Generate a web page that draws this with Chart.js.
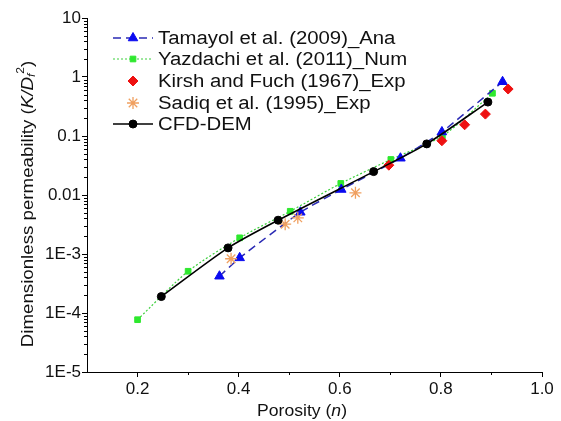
<!DOCTYPE html>
<html>
<head>
<meta charset="utf-8">
<script src="https://cdn.jsdelivr.net/npm/chart.js@4/dist/chart.umd.min.js"></script>
<style>
  html, body { margin: 0; padding: 0; background: #fff; }
  #wrap { width: 561px; height: 421px; position: relative; }
</style>
</head>
<body>
<div id="wrap"><canvas id="chart"></canvas></div>
<script>
// series values
const tamayolX = [0.362, 0.402, 0.522, 0.603, 0.72, 0.802, 0.922];
const tamayolY = [4.2e-4, 8.6e-4, 5.1e-3, 0.0124, 0.042, 0.117, 0.83];
const yazdachiX = [0.2, 0.3, 0.402, 0.502, 0.602, 0.701, 0.803, 0.902];
const yazdachiY = [7.7e-5, 5.1e-4, 1.88e-3, 5.3e-3, 0.0157, 0.040, 0.10, 0.53];
const kirshX = [0.697, 0.802, 0.847, 0.888, 0.933];
const kirshY = [0.032, 0.083, 0.155, 0.235, 0.625];
const sadiqX = [0.385, 0.492, 0.517, 0.631];
const sadiqY = [8.3e-4, 3.2e-3, 4.1e-3, 0.0109];
const cfdX = [0.247, 0.379, 0.478, 0.667, 0.772, 0.893];
const cfdY = [1.9e-4, 1.27e-3, 3.74e-3, 0.0249, 0.0735, 0.376];

const seriesLabels = ["Tamayol et al. (2009)_Ana", "Yazdachi et al. (2011)_Num",
  "Kirsh and Fuch (1967)_Exp", "Sadiq et al. (1995)_Exp", "CFD-DEM"];

// tick labels
const xTicks = [0.2, 0.4, 0.6, 0.8, 1.0];
const xTickLabels = ["0.2", "0.4", "0.6", "0.8", "1.0"];
const xMinorTicks = [0.3, 0.5, 0.7, 0.9];
const yTicks = [1e-5, 1e-4, 1e-3, 0.01, 0.1, 1, 10];
const yTickLabels = ["1E-5", "1E-4", "1E-3", "0.01", "0.1", "1", "10"];

const FONT = "'Liberation Sans', Arial, sans-serif";

function pts(xs, ys) {
  return xs.map((x, i) => ({ x: x, y: ys[i] }));
}

/**
 * Draw text made of several pieces (italic, sub/superscript), centred on cx
 * sx stretches the text horizontally a little, like the source figure
 */
function drawRich(ctx, parts, cx, cy, size, sx) {
  const fontOf = p => (p.italic ? "italic " : "") + Math.round(size * (p.scale || 1)) + "px " + FONT;
  let total = 0;
  parts.forEach(p => { ctx.font = fontOf(p); total += ctx.measureText(p.t).width; });
  ctx.save();
  ctx.translate(cx, cy);
  ctx.scale(sx, 1);
  let x = -total / 2;
  ctx.textBaseline = "middle";
  ctx.textAlign = "left";
  parts.forEach(p => {
    ctx.font = fontOf(p);
    ctx.fillText(p.t, x, p.shift || 0);
    x += ctx.measureText(p.t).width;
  });
  ctx.restore();
}

const extrasPlugin = {
  id: "extras",
  afterDraw(chart) {
    const ctx = chart.ctx;
    const xs = chart.scales.x, ys = chart.scales.y;
    const area = chart.chartArea;
    ctx.save();
    ctx.strokeStyle = "#000";
    ctx.lineWidth = 1;
    // minor ticks
    ctx.beginPath();
    for (let k = -5; k < 1; k++) {
      for (let d = 2; d <= 9; d++) {
        const py = Math.round(ys.getPixelForValue(d * Math.pow(10, k))) + 0.5;
        ctx.moveTo(area.left - 3, py);
        ctx.lineTo(area.left, py);
      }
    }
    xMinorTicks.forEach(v => {
      const px = Math.round(xs.getPixelForValue(v)) + 0.5;
      ctx.moveTo(px, area.bottom);
      ctx.lineTo(px, area.bottom + 3);
    });
    ctx.stroke();

    // axis titles
    ctx.fillStyle = "#111";
    drawRich(ctx, [{ t: "Porosity (" }, { t: "n", italic: true }, { t: ")" }], 302, 412, 16, 1.1);
    ctx.save();
    ctx.translate(28, 204);
    ctx.rotate(-Math.PI / 2);
    drawRich(ctx, [
      { t: "Dimensionless permeability (" },
      { t: "K/D", italic: true },
      { t: "f", italic: true, scale: 0.65, shift: 4 },
      { t: "2", scale: 0.65, shift: -7 },
      { t: ")" }
    ], 0, 0, 17, 1.1);
    ctx.restore();

    // legend
    const rowsY = [38, 59, 81, 103, 124];
    chart.data.datasets.forEach((ds, i) => {
      const y = rowsY[i];
      if (ds.showLine !== false) {
        ctx.save();
        ctx.strokeStyle = ds.borderColor;
        ctx.lineWidth = ds.borderWidth;
        ctx.setLineDash(ds.borderDash || []);
        ctx.beginPath();
        ctx.moveTo(113, y);
        ctx.lineTo(153, y);
        ctx.stroke();
        ctx.restore();
      }
      ctx.save();
      ctx.fillStyle = ds.pointBackgroundColor;
      ctx.strokeStyle = ds.pointBorderColor;
      ctx.lineWidth = ds.pointBorderWidth;
      Chart.helpers.drawPoint(ctx, {
        pointStyle: ds.pointStyle, radius: ds.pointRadius, rotation: 0, borderWidth: ds.pointBorderWidth
      }, 133, y);
      ctx.restore();
      ctx.save();
      ctx.fillStyle = "#111";
      ctx.font = "18px " + FONT;
      ctx.textAlign = "left";
      ctx.textBaseline = "middle";
      ctx.translate(158, y + 1);
      ctx.scale(1.13, 1);
      ctx.fillText(ds.label, 0, 0);
      ctx.restore();
    });
    ctx.restore();
  }
};

new Chart(document.getElementById("chart").getContext("2d"), {
  type: "scatter",
  data: {
    datasets: [
      {
        label: seriesLabels[0], data: pts(tamayolX, tamayolY), showLine: true,
        borderColor: "#2a2ab4", borderWidth: 1.5, borderDash: [8, 5], tension: 0.15,
        pointStyle: "triangle", pointRadius: 5.5, pointBackgroundColor: "#0a0af0",
        pointBorderColor: "#0a0af0", pointBorderWidth: 1, order: 3
      },
      {
        label: seriesLabels[1], data: pts(yazdachiX, yazdachiY), showLine: true,
        borderColor: "#3ccf3c", borderWidth: 1.2, borderDash: [2, 2], tension: 0.25,
        pointStyle: "rect", pointRadius: 4, pointBackgroundColor: "#2ee82e",
        pointBorderColor: "#2ee82e", pointBorderWidth: 1, order: 4
      },
      {
        label: seriesLabels[2], data: pts(kirshX, kirshY), showLine: false,
        pointStyle: "rectRot", pointRadius: 5, pointBackgroundColor: "#ee1111",
        pointBorderColor: "#ee1111", pointBorderWidth: 1, order: 2
      },
      {
        label: seriesLabels[3], data: pts(sadiqX, sadiqY), showLine: false,
        pointStyle: "star", pointRadius: 6, pointBackgroundColor: "#f0a060",
        pointBorderColor: "#f0a060", pointBorderWidth: 1.3, order: 1
      },
      {
        label: seriesLabels[4], data: pts(cfdX, cfdY), showLine: true,
        borderColor: "#000", borderWidth: 1.6, tension: 0.25,
        pointStyle: "circle", pointRadius: 4, pointBackgroundColor: "#000",
        pointBorderColor: "#000", pointBorderWidth: 1, order: 0
      }
    ]
  },
  options: {
    responsive: true,
    maintainAspectRatio: false,
    animation: false,
    layout: { padding: { top: 18, right: 19, left: 0, bottom: 0 } },
    plugins: { legend: { display: false }, tooltip: { enabled: false } },
    scales: {
      x: {
        type: "linear", min: 0.1, max: 1.0,
        afterBuildTicks: s => { s.ticks = xTicks.map(v => ({ value: v })); },
        afterFit: s => { s.height = 49; },
        ticks: {
          callback: v => xTickLabels[xTicks.indexOf(v)] || "",
          color: "#111", font: { family: FONT, size: 17 }, padding: 2, maxRotation: 0
        },
        grid: { drawOnChartArea: false, drawTicks: true, tickLength: 5, color: "#000" },
        border: { display: true, color: "#000", width: 1 }
      },
      y: {
        type: "logarithmic", min: 1e-5, max: 10,
        afterBuildTicks: s => { s.ticks = yTicks.map(v => ({ value: v })); },
        afterFit: s => { s.width = 87; },
        ticks: {
          callback: v => yTickLabels[yTicks.indexOf(v)] || "",
          color: "#111", font: { family: FONT, size: 17 }, padding: 1
        },
        grid: { drawOnChartArea: false, drawTicks: true, tickLength: 5, color: "#000" },
        border: { display: true, color: "#000", width: 1 }
      }
    }
  },
  plugins: [extrasPlugin]
});
</script>
</body>
</html>
